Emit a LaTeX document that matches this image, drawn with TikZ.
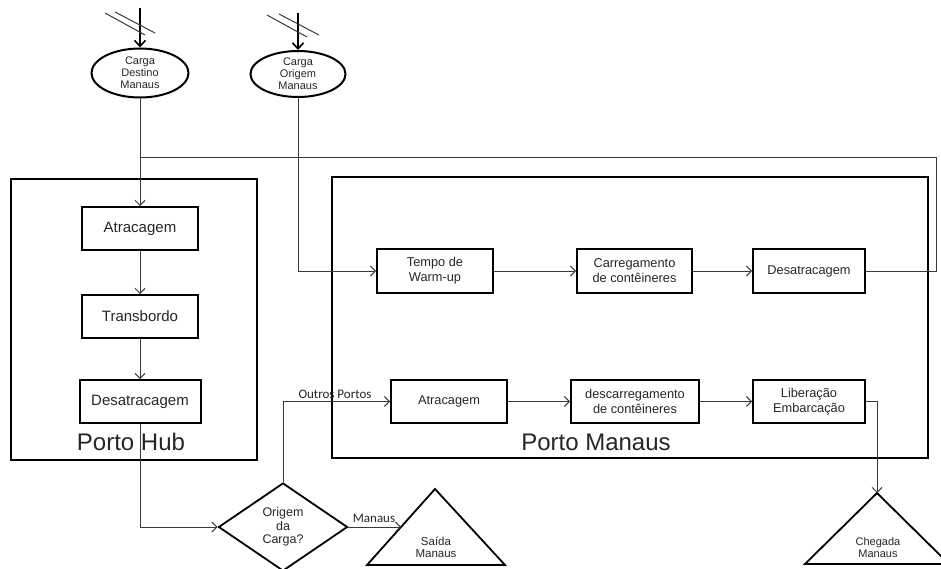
\documentclass[tikz,border=0pt]{standalone}
\usepackage{fontspec}
\setmainfont{Liberation Sans}
\newfontfamily\calibri{Carlito}
\usetikzlibrary{arrows.meta,shapes.geometric,calc}
\definecolor{txt}{HTML}{262626}
\definecolor{ln}{HTML}{3A3A3A}
\begin{document}
\begin{tikzpicture}[x=1pt,y=-1pt,
  every node/.style={text=txt},
  frame/.style={draw=black,line width=2.4pt},
  hubbox/.style={draw=black,line width=2pt,minimum height=43pt,inner sep=0pt,font=\fontsize{15}{17}\selectfont},
  mbox/.style={draw=black,line width=2pt,minimum height=44pt,inner sep=0pt,align=center,font=\fontsize{12.8}{15}\selectfont},
  src/.style={draw=black,ellipse,line width=2pt,inner sep=0pt,align=center,font=\fontsize{11}{12}\selectfont},
  conn/.style={draw=ln,line width=1pt,-{Straight Barb[length=5pt,width=10pt]}},
  plainline/.style={draw=ln,line width=1pt},
  inarrow/.style={draw=black,line width=1.6pt,-{Straight Barb[length=6pt,width=11pt]}},
  slash/.style={draw=ln,line width=1pt},
  tri/.style={draw=black,line width=1.8pt,line join=miter},
  big/.style={font=\fontsize{24}{26}\selectfont},
  lbl/.style={font=\calibri\fontsize{13}{15}\selectfont,inner sep=0pt},
]
\useasboundingbox (0,0) rectangle (941,569);
\clip (0,0) rectangle (941,569);

% frames
\draw[frame] (11,179) rectangle (257,460);
\draw[frame] (332,177) rectangle (928,458);
\node[big] (hubname) at (131,442) {Porto Hub};
\node[big] (manname) at (596,442) {Porto Manaus};

% sources
\node[src,minimum width=97pt,minimum height=49pt] (e1) at (140,73) {Carga\\Destino\\Manaus};
\node[src,minimum width=95pt,minimum height=46pt] (e2) at (298,74) {Carga\\Origem\\Manaus};
\coordinate (in1) at (140,8);
\coordinate (in2) at (298,13);
\draw[inarrow] (in1) -- (e1.north);
\draw[inarrow] (in2) -- (e2.north);
\draw[slash] (105,13) -- (145,35);
\draw[slash] (115,12) -- (155,33);
\draw[slash] (267,15) -- (307,37);
\draw[slash] (279,14) -- (319,35);

% hub boxes
\node[hubbox,minimum width=116pt] (hAtr) at (140,228.5) {Atracagem};
\node[hubbox,minimum width=116pt] (hTrans) at (140,316.5) {Transbordo};
\node[hubbox,minimum width=121pt] (hDes) at (140,401.5) {Desatracagem};

% Manaus top row
\node[mbox,minimum width=116pt] (tempo) at (435,271) {Tempo de\\Warm-up};
\node[mbox,minimum width=115pt] (carreg) at (634.5,271) {Carregamento\\de contêineres};
\node[mbox,minimum width=112pt] (mDes) at (809,271) {Desatracagem};

% Manaus bottom row
\node[mbox,minimum width=116pt,minimum height=43pt] (mAtr) at (449,401.5) {Atracagem};
\node[mbox,minimum width=128pt,minimum height=43pt] (descar) at (635,401.5) {descarregamento\\de contêineres};
\node[mbox,minimum width=112pt,minimum height=43pt] (liber) at (809,401.5) {Liberação\\Embarcação};

% decision
\node[draw=black,diamond,line width=1.8pt,minimum width=129pt,minimum height=88pt,inner sep=0pt,align=center,font=\fontsize{12.5}{13.5}\selectfont] (dia) at (283,527) {Origem\\da\\Carga?};

% triangles
\coordinate (sA) at (435,489);
\coordinate (sL) at (367,565);
\coordinate (sR) at (505,565);
\draw[tri] (sA) -- (sL) -- (sR) -- cycle;
\node[align=center,font=\fontsize{11.5}{12}\selectfont] (saida) at (436,547) {Saída\\Manaus};
\coordinate (sIn) at ($(sA)!0.5!(sL)$);

\coordinate (cA) at (877,493);
\coordinate (cL) at (805,564);
\coordinate (cR) at (949,564);
\draw[tri] (cA) -- (cL) -- (cR) -- cycle;
\node[align=center,font=\fontsize{11}{12}\selectfont] (chegada) at (878,548) {Chegada\\Manaus};

% connectors
\draw[conn] (e1.south) -- (hAtr.north);
\draw[conn] (hAtr.south) -- (hTrans.north);
\draw[conn] (hTrans.south) -- (hDes.north);
\draw[conn] (hDes.south) |- (dia.west);
\draw[conn] (e2.south) |- (tempo.west);
\draw[conn] (tempo.east) -- (carreg.west);
\draw[conn] (carreg.east) -- (mDes.west);
\coordinate (loopTR) at (936,158);
\draw[plainline] (mDes.east) -| (loopTR) -- (loopTR -| e1.south);
\draw[conn] (dia.north) |- (mAtr.west);
\node[lbl] (outros) at (335,394) {Outros Portos};
\draw[conn] (dia.east) -- (sIn);
\node[lbl] (manlbl) at (374,518) {Manaus};
\draw[conn] (mAtr.east) -- (descar.west);
\draw[conn] (descar.east) -- (liber.west);
\draw[conn] (liber.east) -| (cA);
\end{tikzpicture}
\end{document}
